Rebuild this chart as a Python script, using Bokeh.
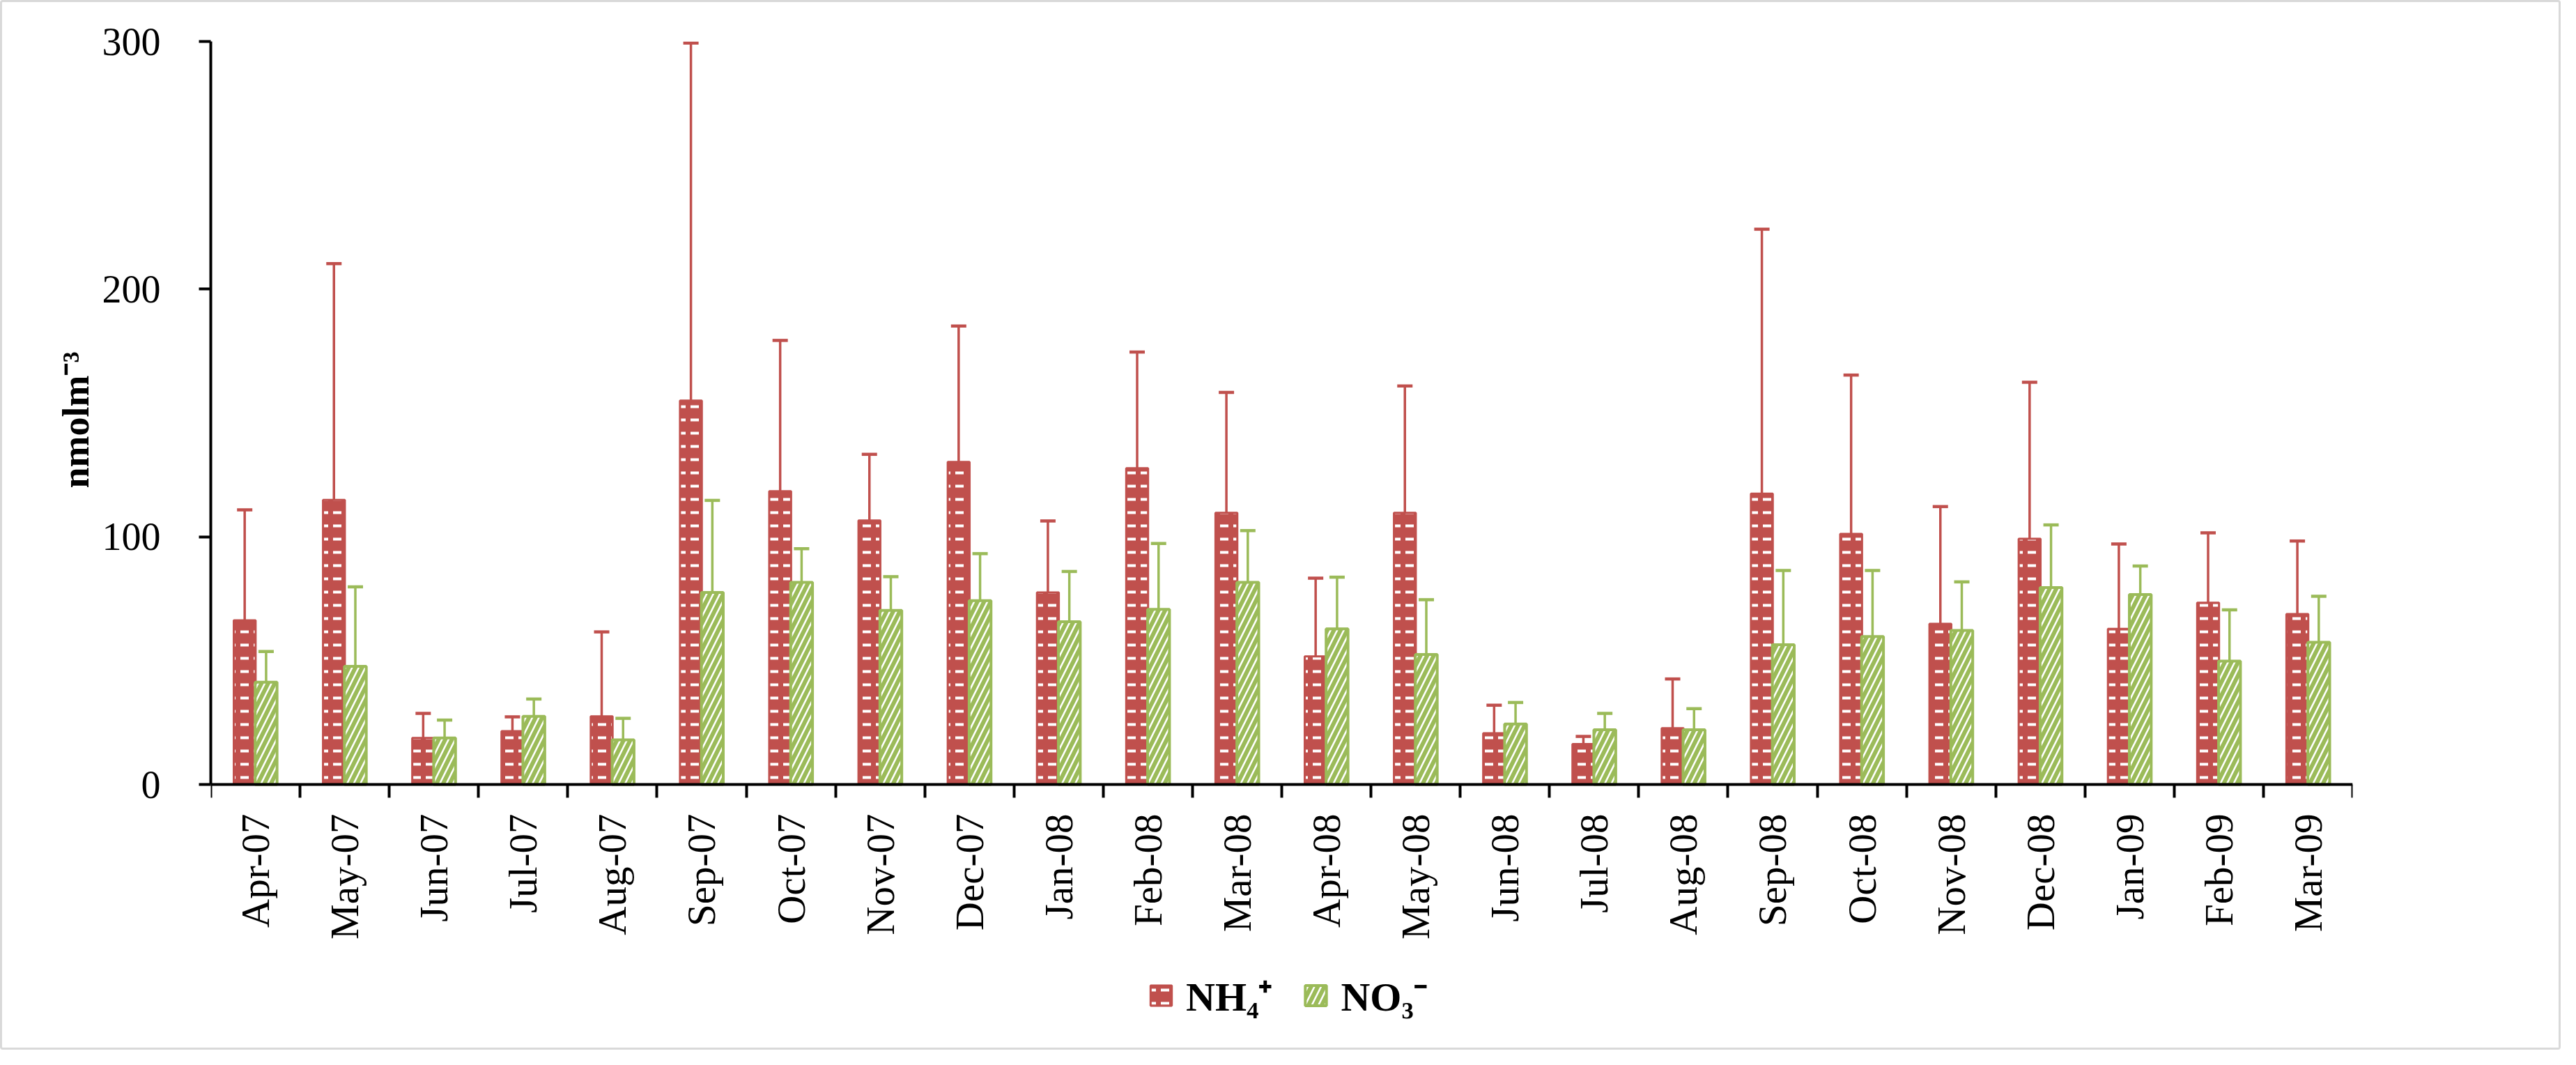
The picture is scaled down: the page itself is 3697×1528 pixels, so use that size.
import numpy as np
from math import pi
from bokeh.plotting import figure
from bokeh.models import (ColumnDataSource, Range1d, FixedTicker, Whisker, TeeHead,
                          Legend, LegendItem, Title)
from bokeh.transform import dodge
from bokeh.embed import file_html
from bokeh.resources import INLINE

months = ["Apr-07", "May-07", "Jun-07", "Jul-07", "Aug-07", "Sep-07", "Oct-07", "Nov-07",
          "Dec-07", "Jan-08", "Feb-08", "Mar-08", "Apr-08", "May-08", "Jun-08", "Jul-08",
          "Aug-08", "Sep-08", "Oct-08", "Nov-08", "Dec-08", "Jan-09", "Feb-09", "Mar-09"]
nh4 = [66.3, 114.9, 18.8, 21.5, 27.5, 155.0, 118.4, 106.6, 130.2, 77.5, 127.7, 109.7,
       51.7, 109.7, 20.7, 16.3, 22.7, 117.4, 101.2, 64.9, 99.2, 62.8, 73.4, 68.8]
nh4_err = [44.6, 95.4, 9.9, 5.8, 34.1, 144.4, 60.9, 26.7, 54.9, 28.9, 46.9, 48.6,
           31.6, 51.2, 11.3, 3.1, 19.9, 106.8, 64.1, 47.3, 63.2, 34.3, 28.2, 29.5]
no3 = [41.3, 47.7, 18.8, 27.5, 18.0, 77.5, 81.6, 70.3, 74.2, 65.7, 70.7, 81.6,
       62.8, 52.5, 24.4, 22.1, 22.1, 56.4, 59.7, 62.2, 79.5, 76.7, 49.8, 57.4]
no3_err = [12.4, 32.1, 7.2, 7.0, 8.7, 37.2, 13.6, 13.6, 19.0, 20.3, 26.6, 20.9,
           20.9, 22.1, 8.7, 6.6, 8.5, 30.0, 26.7, 19.6, 25.3, 11.5, 20.7, 18.6]
yticks = [0, 100, 200, 300]
series_labels = ["NH\u2084\u207a", "NO\u2083\u207b"]
y_label = "nmolm\u207b\u00b3"

RED = "#C0504D"
GREEN = "#9BBB59"
FONT = "Liberation Serif"

# layout (pixels inside the figure)
W, H = 3675, 1506
TOP, LEFT, RIGHT, BOTTOM = 56, 299, 302, 20
AXIS_PX = 1066            # height of the 0..300 span
Y_MAX = 300
px_per_unit = AXIS_PX / Y_MAX
frame_h = H - TOP - BOTTOM
y_min = Y_MAX - frame_h / px_per_unit   # negative: room below the axis for labels/legend
LABEL_START = 641                        # px below frame top where the y label begins
label_offset = frame_h - LABEL_START

n = len(months)
idx = list(range(n))
src = ColumnDataSource(dict(
    x=idx,
    nh4=nh4, no3=no3,
    nh4_up=list(np.array(nh4) + np.array(nh4_err)),
    no3_up=list(np.array(no3) + np.array(no3_err)),
))

p = figure(width=W, height=H,
           x_range=Range1d(-0.5, n - 0.5), y_range=Range1d(y_min, Y_MAX),
           output_backend="svg", toolbar_location=None,
           min_border_left=LEFT, min_border_right=RIGHT,
           min_border_top=TOP, min_border_bottom=BOTTOM)
p.styles = {"border": "3px solid #D9D9D9", "border-radius": "4px"}
p.outline_line_color = None
p.xgrid.grid_line_color = None
p.ygrid.grid_line_color = None
p.background_fill_color = "white"
p.border_fill_color = "white"

r1 = p.vbar(x=dodge("x", -0.12, range=p.x_range), top="nh4", bottom=0, width=0.245,
            source=src, fill_color=RED, line_color=RED, line_width=3,
            hatch_pattern="horizontal_dash", hatch_color="white",
            hatch_scale=19, hatch_weight=4)
r2 = p.vbar(x=dodge("x", 0.12, range=p.x_range), top="no3", bottom=0, width=0.245,
            source=src, fill_color="white", line_color=GREEN, line_width=4,
            hatch_pattern="right_diagonal_line", hatch_color=GREEN,
            hatch_scale=19, hatch_weight=6)

w1 = Whisker(base=dodge("x", -0.12, range=p.x_range), lower="nh4", upper="nh4_up",
             source=src, dimension="height", line_color=RED, line_width=3.5,
             upper_head=TeeHead(size=22, line_color=RED, line_width=4.5), lower_head=None)
w2 = Whisker(base=dodge("x", 0.12, range=p.x_range), lower="no3", upper="no3_up",
             source=src, dimension="height", line_color=GREEN, line_width=3.5,
             upper_head=TeeHead(size=22, line_color=GREEN, line_width=4.5), lower_head=None)
p.add_layout(w1)
p.add_layout(w2)

xa = p.xaxis[0]
xa.fixed_location = 0
xa.ticker = FixedTicker(ticks=[float(i) for i in idx],
                        minor_ticks=[i - 0.5 for i in range(n + 1)])
xa.major_label_overrides = {i: m for i, m in enumerate(months)}
xa.major_label_orientation = pi / 2
xa.major_tick_line_color = None
xa.major_tick_out = 19
xa.major_tick_in = 0
xa.minor_tick_out = 19
xa.minor_tick_in = 0
xa.minor_tick_line_width = 4
xa.minor_tick_line_color = "black"
xa.axis_line_width = 4
xa.axis_line_color = "black"
xa.major_label_text_font = FONT
xa.major_label_text_font_size = "57px"
xa.major_label_text_color = "black"
xa.major_label_standoff = 23

ya = p.yaxis[0]
ya.bounds = (0, Y_MAX)
ya.ticker = FixedTicker(ticks=yticks)
ya.minor_tick_line_color = None
ya.major_tick_out = 17
ya.major_tick_in = 0
ya.major_tick_line_width = 4
ya.major_tick_line_color = "black"
ya.axis_line_width = 4
ya.axis_line_color = "black"
ya.major_label_text_font = FONT
ya.major_label_text_font_size = "56px"
ya.major_label_text_color = "black"
ya.major_label_standoff = 55

ytitle = Title(text=y_label, align="left", offset=label_offset,
               text_font=FONT, text_font_size="54px", text_font_style="bold",
               text_color="black", standoff=10)
p.add_layout(ytitle, "left")

legend = Legend(items=[LegendItem(label=series_labels[0], renderers=[r1]),
                       LegendItem(label=series_labels[1], renderers=[r2])],
                orientation="horizontal", location=(1345, 22),
                label_text_font=FONT, label_text_font_size="58px",
                label_text_font_style="bold", label_text_color="black",
                glyph_width=38, glyph_height=36, label_standoff=17, spacing=43,
                padding=0, margin=0, border_line_color=None,
                background_fill_alpha=0)
p.add_layout(legend, "center")

open("out.html", "w").write(file_html(p, INLINE))
